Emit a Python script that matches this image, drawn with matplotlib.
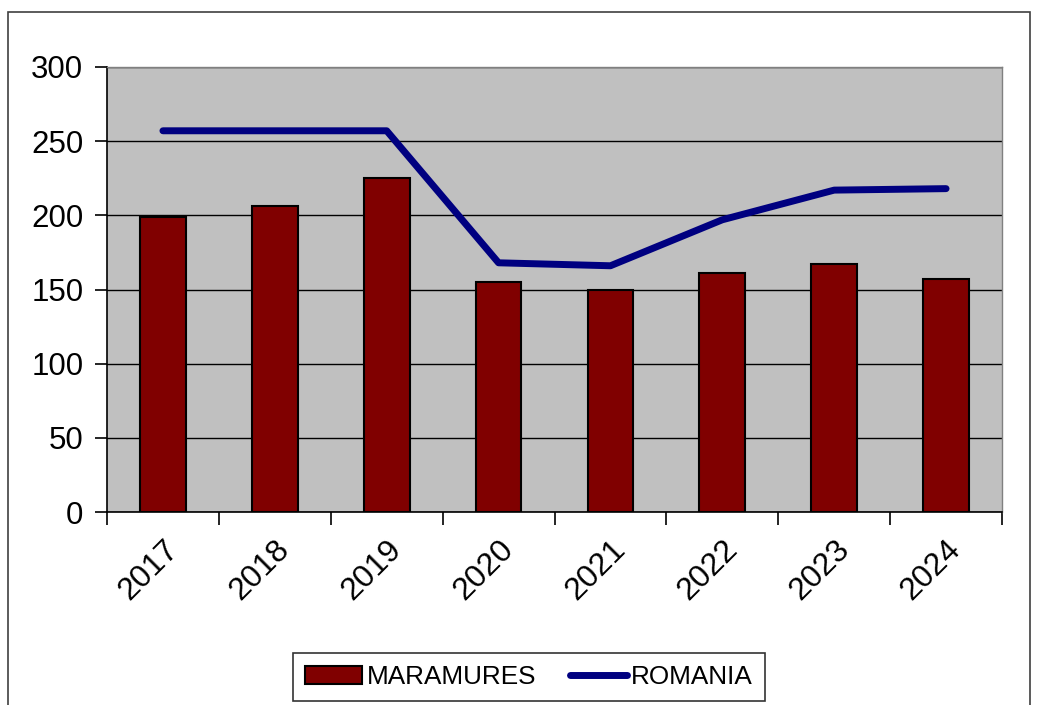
import matplotlib
matplotlib.use("Agg")
import matplotlib.pyplot as plt
from matplotlib.patches import Rectangle
import numpy as np

years = ["2017", "2018", "2019", "2020", "2021", "2022", "2023", "2024"]
maramures = [199, 206, 225, 155, 150, 161, 167, 157]
romania = [257, 257, 257, 168, 166, 197, 217, 218]
y_ticks = [0, 50, 100, 150, 200, 250, 300]

plt.rcParams["font.family"] = ["Liberation Sans", "DejaVu Sans"]

fig = plt.figure(figsize=(10.38, 7.05), dpi=100)
fig.patch.set_facecolor("white")

# outer chart border
fig.patches.append(Rectangle((8 / 1038, -0.01), 1022 / 1038, 1 - 12 / 705 + 0.01,
                             transform=fig.transFigure, fill=False,
                             edgecolor="#404040", linewidth=1.2))

ax = fig.add_axes([107 / 1038, 193 / 705, 895 / 1038, 445 / 705])
ax.set_facecolor("#C0C0C0")

x = np.arange(len(years))
bars = ax.bar(x, maramures, width=0.41, color="#800000", edgecolor="black",
              linewidth=1.5, label="MARAMURES", zorder=3)
line, = ax.plot(x, romania, color="#000080", linewidth=5, solid_capstyle="round",
                solid_joinstyle="round", label="ROMANIA", zorder=4)

ax.set_xlim(-0.5, len(years) - 0.5)
ax.set_ylim(0, 300)
ax.set_yticks(y_ticks)
ax.set_yticklabels([str(v) for v in y_ticks], fontsize=22.5)
ax.yaxis.grid(True, color="black", linewidth=1.0, zorder=0)
ax.set_axisbelow(True)

# tick marks between categories, labels at category centres
ax.set_xticks(np.arange(-0.5, len(years) + 0.5, 1.0))
ax.set_xticklabels([])
ax.set_xticks(x, minor=True)
ax.set_xticklabels(years, minor=True, fontsize=23, rotation=45,
                   ha="right", va="top", rotation_mode="anchor")
ax.tick_params(axis="x", which="minor", length=0, pad=16)
ax.tick_params(axis="x", which="major", length=9, width=1.2, direction="out")
ax.tick_params(axis="y", length=9, width=1.2, direction="out", pad=8)

for side in ("top", "right"):
    ax.spines[side].set_color("#808080")
    ax.spines[side].set_linewidth(1.0)
for side in ("left", "bottom"):
    ax.spines[side].set_color("black")
    ax.spines[side].set_linewidth(1.2)

leg = fig.legend(handles=[bars, line], labels=["MARAMURES", "ROMANIA"],
                 loc="center", bbox_to_anchor=(529 / 1038, 28 / 705), ncol=2,
                 fontsize=18.8, frameon=True, fancybox=False, shadow=False,
                 edgecolor="black", borderpad=0.45, borderaxespad=0,
                 columnspacing=1.3, handlelength=2.2, handletextpad=0.15)
leg.get_frame().set_linewidth(1.2)

fig.savefig("out.png", dpi=100)
